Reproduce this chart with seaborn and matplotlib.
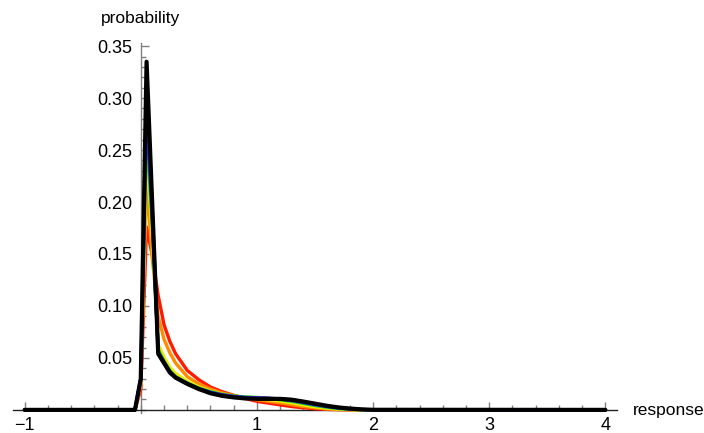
import matplotlib
matplotlib.use("Agg")
import matplotlib.pyplot as plt
import seaborn as sns
import pandas as pd
from matplotlib.ticker import MultipleLocator

sns.set_theme(style="white")
plt.rcParams['font.family'] = ['Liberation Sans', 'DejaVu Sans']

response = [-1, -0.05, 0, 0.05, 0.1, 0.15, 0.2, 0.25, 0.3, 0.4, 0.5, 0.6, 0.7, 0.8,
            0.9, 1.0, 1.1, 1.2, 1.3, 1.4, 1.5, 1.6, 1.7, 1.8, 1.9, 2.0, 4.0]

red = [0, 0, 0.02, 0.176, 0.148, 0.11, 0.082, 0.066, 0.054, 0.038, 0.029, 0.022, 0.0175,
       0.014, 0.011, 0.0082, 0.0065, 0.0048, 0.0032, 0.002, 0.0011, 0.0005, 0.0002, 0, 0, 0, 0]
orange = [0, 0, 0.024, 0.218, 0.145, 0.09, 0.068, 0.055, 0.045, 0.032, 0.025, 0.02, 0.0163,
          0.0137, 0.0117, 0.0097, 0.0083, 0.0068, 0.005, 0.0033, 0.002, 0.001, 0.0004, 0.0001, 0, 0, 0]
yellow = [0, 0, 0.027, 0.25, 0.165, 0.063, 0.051, 0.041, 0.035, 0.0275, 0.022, 0.018, 0.015,
          0.013, 0.012, 0.011, 0.0098, 0.0085, 0.0068, 0.0048, 0.003, 0.0017, 0.0008, 0.0003, 0.0001, 0, 0]
green = [0, 0, 0.028, 0.27, 0.175, 0.058, 0.047, 0.038, 0.032, 0.026, 0.021, 0.0175, 0.015,
         0.0133, 0.0125, 0.012, 0.0112, 0.0098, 0.0082, 0.0062, 0.0042, 0.0026, 0.0013, 0.0005, 0.0002, 0, 0]
blue = [0, 0, 0.029, 0.29, 0.18, 0.056, 0.046, 0.037, 0.0315, 0.0255, 0.0205, 0.017, 0.0145,
        0.013, 0.012, 0.0116, 0.0112, 0.0104, 0.009, 0.007, 0.005, 0.0032, 0.0018, 0.0008, 0.0003, 0, 0]
purple = [0, 0, 0.03, 0.315, 0.19, 0.055, 0.0455, 0.0365, 0.031, 0.0252, 0.0202, 0.0165, 0.014,
          0.0125, 0.0115, 0.0112, 0.011, 0.0107, 0.0097, 0.0078, 0.0057, 0.0037, 0.0022, 0.0011, 0.0004, 0, 0]
black = [0, 0, 0.03, 0.335, 0.195, 0.054, 0.045, 0.036, 0.031, 0.025, 0.02, 0.016, 0.0135,
         0.012, 0.011, 0.0106, 0.0106, 0.0106, 0.0098, 0.008, 0.006, 0.004, 0.0024, 0.0013, 0.0005, 0.0001, 0]

series = {
    "red": (red, "#ff1a00", 2.4),
    "orange": (orange, "#ff8c00", 2.4),
    "yellow": (yellow, "#f2ea00", 2.4),
    "green": (green, "#22dd00", 2.4),
    "blue": (blue, "#1030ff", 2.4),
    "purple": (purple, "#6a0aa8", 2.4),
    "black": (black, "#000000", 3.0),
}

fig = plt.figure(figsize=(7.04, 4.33), dpi=100)
ax = fig.add_axes([13 / 704, (433 - 413) / 433, 604 / 704, 370 / 433])

for name, (vals, col, lw) in series.items():
    df = pd.DataFrame({"response": response, "probability": vals})
    sns.lineplot(data=df, x="response", y="probability", ax=ax, color=col,
                 linewidth=lw, clip_on=False, zorder=3)

ax.set_xlim(-1.1, 4.1)
ax.set_ylim(-0.003, 0.353)
ax.set_xlabel("")
ax.set_ylabel("")

for s in ["top", "right"]:
    ax.spines[s].set_visible(False)
ax.spines["left"].set_position(("data", 0))
ax.spines["bottom"].set_position(("data", 0))
ax.spines["left"].set_color("#808080")
ax.spines["bottom"].set_color("#222222")
ax.spines["left"].set_linewidth(1.0)
ax.spines["bottom"].set_linewidth(1.0)
ax.spines["left"].set_zorder(1)

xticks = [-1, 1, 2, 3, 4]
xticklabels = ["\u22121", "1", "2", "3", "4"]
yticks = [0.05, 0.10, 0.15, 0.20, 0.25, 0.30, 0.35]
yticklabels = ["0.05", "0.10", "0.15", "0.20", "0.25", "0.30", "0.35"]

ax.set_xticks(xticks)
ax.set_xticklabels(xticklabels)
ax.set_yticks(yticks)
ax.set_yticklabels(yticklabels)
ax.xaxis.set_minor_locator(MultipleLocator(0.2))
ax.yaxis.set_minor_locator(MultipleLocator(0.01))

ax.tick_params(axis="x", which="major", direction="in", length=6, width=1,
               color="#808080", labelsize=13, pad=5, labelcolor="black", bottom=True)
ax.tick_params(axis="x", which="minor", direction="in", length=3.5, width=1,
               color="#808080", bottom=True)
ax.tick_params(axis="y", which="major", direction="in", length=6, width=1,
               color="#808080", labelsize=13, pad=6, labelcolor="black", left=True)
ax.tick_params(axis="y", which="minor", direction="in", length=3.5, width=1,
               color="#808080", left=True)

ax.grid(False)

fig.text(101 / 704, 1 - 18 / 433, "probability", fontsize=12.5, ha="left", va="center", color="black")
fig.text(633 / 704, 1 - 410 / 433, "response", fontsize=12.5, ha="left", va="center", color="black")

fig.savefig("out.png", dpi=100)
